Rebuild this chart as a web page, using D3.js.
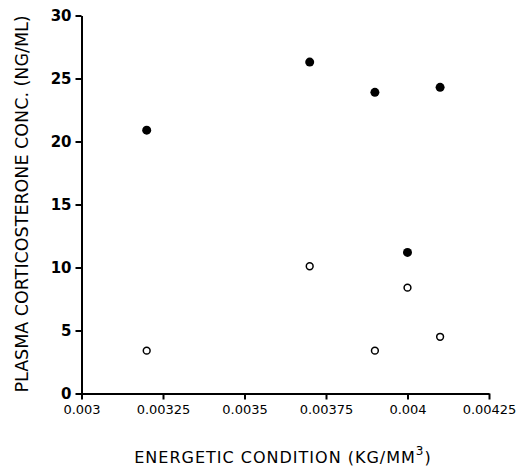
<!DOCTYPE html>
<html>
<head>
<meta charset="utf-8">
<script src="https://cdn.jsdelivr.net/npm/d3@7"></script>
<style>
  body { margin: 0; background: #fff; }
  text { font-family: 'DejaVu Sans', sans-serif; fill: #000; }
</style>
</head>
<body>
<div id="container"></div>
<script>
// DATA
const xTicks = [0.003, 0.00325, 0.0035, 0.00375, 0.004, 0.00425]
const xTickLabels = ['0.003', '0.00325', '0.0035', '0.00375', '0.004', '0.00425']
const yTicks = [0, 5, 10, 15, 20, 25, 30]

const condition = [0.0032, 0.0037, 0.0039, 0.004, 0.0041]
const filledConc = [20.9, 26.3, 23.9, 11.2, 24.3]
const openConc = [3.4, 10.1, 3.4, 8.4, 4.5]

//BOX
const w = 525
const h = 468

//SCALES
const xscale = d3.scaleLinear()
    .domain([0.003, 0.00425])
    .range([81.5, 489])

const yscale = d3.scaleLinear()
    .domain([0, 30])
    .range([393.5, 15.5])

//AXES
const xaxis = d3.axisBottom(xscale)
    .tickValues(xTicks)
    .tickFormat((d, i) => xTickLabels[i])
    .tickSizeInner(6)
    .tickSizeOuter(0)
    .tickPadding(5)

const yaxis = d3.axisLeft(yscale)
    .tickValues(yTicks)
    .tickSizeInner(6)
    .tickSizeOuter(0)
    .tickPadding(4)

const svg = d3.select('#container')
    .append('svg')
    .attr('width', w)
    .attr('height', h)

svg.append('g')
    .attr('class', 'x axis')
    .attr('transform', 'translate(0,' + yscale(0) + ')')
    .call(xaxis)

svg.append('g')
    .attr('class', 'y axis')
    .attr('transform', 'translate(' + xscale(0.003) + ',0)')
    .call(yaxis)

svg.selectAll('.axis path, .axis line')
    .attr('stroke', '#000')
    .attr('stroke-width', 2)

svg.selectAll('.x.axis text')
    .attr('font-size', 13)
    .style('font-family', "'DejaVu Sans', sans-serif")

svg.selectAll('.y.axis text')
    .attr('font-size', 15)
    .attr('font-weight', 'bold')
    .style('font-family', "'DejaVu Sans', sans-serif")

//AXIS TITLES
const xtitle = svg.append('text')
    .attr('x', 283)
    .attr('y', 463)
    .attr('text-anchor', 'middle')
    .attr('font-size', 16)
    .attr('letter-spacing', 1)
xtitle.append('tspan').text('ENERGETIC CONDITION (KG/MM')
xtitle.append('tspan').attr('dy', -8).attr('font-size', 12).text('3')
xtitle.append('tspan').attr('dy', 8).text(')')

svg.append('text')
    .attr('transform', 'translate(28,204) rotate(-90)')
    .attr('text-anchor', 'middle')
    .attr('font-size', 17.5)
    .text('PLASMA CORTICOSTERONE CONC. (NG/ML)')

//FILLED POINTS
svg.append('g')
    .selectAll('circle')
    .data(condition)
    .enter()
    .append('circle')
    .attr('cx', d => xscale(d))
    .attr('cy', (d, i) => yscale(filledConc[i]))
    .attr('r', 4.5)
    .attr('fill', '#000')

//OPEN POINTS
svg.append('g')
    .selectAll('circle')
    .data(condition)
    .enter()
    .append('circle')
    .attr('cx', d => xscale(d))
    .attr('cy', (d, i) => yscale(openConc[i]))
    .attr('r', 3.4)
    .attr('fill', '#fff')
    .attr('stroke', '#000')
    .attr('stroke-width', 1.5)
</script>
</body>
</html>
